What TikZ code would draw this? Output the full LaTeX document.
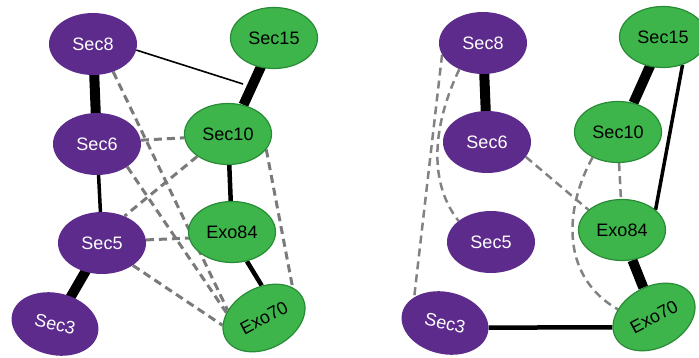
\documentclass[tikz,border=0pt]{standalone}
\usepackage{fontspec}
\setmainfont{Liberation Sans}
\usetikzlibrary{shapes.geometric,backgrounds}
\definecolor{purp}{RGB}{93,43,140}
\definecolor{grn}{RGB}{61,181,74}
\definecolor{grnb}{RGB}{40,140,55}
\definecolor{dgray}{RGB}{122,122,122}
\definecolor{lgray}{RGB}{130,130,130}
\begin{document}
\begin{tikzpicture}[x=1pt,y=-1pt,
  pnode/.style={ellipse,fill=purp,text=white,minimum width=88pt,minimum height=62pt,inner sep=0pt,font=\fontsize{18}{20}\selectfont},
  gnode/.style={ellipse,fill=grn,draw=grnb,line width=1.2pt,text=black,minimum width=87pt,minimum height=61pt,inner sep=0pt,font=\fontsize{18}{20}\selectfont},
  heavyedge/.style={line width=10pt,black},
  midedge/.style={line width=4.5pt,black},
  thinedge/.style={line width=3.5pt,black},
  hairedge/.style={line width=1.6pt,black},
  ldash/.style={line width=3pt,dgray,dash pattern=on 8pt off 5pt},
  rdash/.style={line width=2.5pt,lgray,dash pattern=on 8pt off 5pt}
]
\useasboundingbox (0,0) rectangle (699,358);
% left panel
\node[pnode] (l8) at (93,44) {Sec8};
\node[gnode] (l15) at (274,38) {Sec15};
\node[pnode] (l6) at (97,144) {Sec6};
\node[gnode] (l10) at (228,134) {Sec10};
\node[pnode] (l5) at (102,243) {Sec5};
\node[gnode] (l84) at (232,232) {Exo84};
\node[pnode,rotate=-13] (l3) at (55,324) {Sec3};
\node[gnode,rotate=28] (l70) at (264,318) {Exo70};
\coordinate (lj) at (243,84);
% right panel
\node[pnode] (r8) at (483,43) {Sec8};
\node[gnode] (r15) at (663,37) {Sec15};
\node[pnode] (r6) at (487,142) {Sec6};
\node[gnode] (r10) at (618,132) {Sec10};
\node[pnode] (r5) at (491,242) {Sec5};
\node[gnode] (r84) at (622,230) {Exo84};
\node[pnode,rotate=-13] (r3) at (445,323) {Sec3};
\node[gnode,rotate=28] (r70) at (654,317) {Exo70};
\begin{scope}[on background layer]
  % left solid
  \draw[heavyedge] (l8.center) -- (l6.center);
  \draw[heavyedge] (l15.center) -- (l10.62);
  \draw[hairedge] (l8.-8) -- (lj);
  \draw[thinedge] (l6.center) -- (l5.center);
  \draw[heavyedge] (l5.center) -- (l3.center);
  \draw[midedge] (l10.center) -- (l84.center);
  \draw[midedge] (l84.-63) -- (l70.66);
  % left dashed
  \draw[ldash] (l8.-54) -- (l70.140);
  \draw[ldash] (l6.5) -- (l10.185);
  \draw[ldash] (l6.-37) -- (l70.144);
  \draw[ldash] (l10.216) -- (l5.50);
  \draw[ldash] (l5.4) -- (l84.188);
  \draw[ldash] (l5.-36) -- (l70.162);
  \draw[ldash] (l10.-22) -- (l70.19);
  % right solid
  \draw[heavyedge] (r8.center) -- (r6.center);
  \draw[heavyedge] (r15.center) -- (r10.62);
  \draw[thinedge] (r15.-55) -- (r84.31);
  \draw[heavyedge] (r84.-71) -- (r70.82);
  \draw[midedge] (r3.7) -- (r70.166);
  % right dashed
  \draw[rdash] (r8.196) -- (r3.153);
  \draw[rdash] (r8.228) .. controls (436,118) and (425,178) .. (r5.147);
  \draw[rdash] (r6.-21) -- (r84.149);
  \draw[rdash] (r10.-88) -- (r84.92);
  \draw[rdash] (r10.225) .. controls (566,205) and (558,275) .. (r70.140);
\end{scope}
\end{tikzpicture}
\end{document}
